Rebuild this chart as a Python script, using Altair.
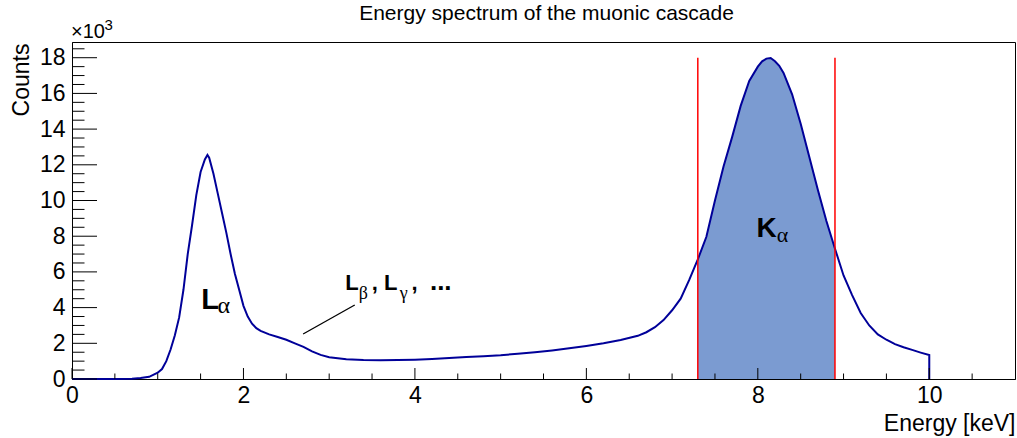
import altair as alt
import pandas as pd

# Histogram of the muonic X-ray cascade (energy in keV, counts per bin)
energy = [0.0, 0.5, 0.7, 0.8, 0.9, 1.0, 1.05, 1.1, 1.15, 1.2, 1.25, 1.3, 1.35, 1.4,
          1.45, 1.5, 1.55, 1.58, 1.6, 1.65, 1.7, 1.75, 1.8, 1.85, 1.9, 1.95, 2.0,
          2.05, 2.1, 2.15, 2.2, 2.3, 2.4, 2.5, 2.6, 2.7, 2.8, 2.9, 3.0, 3.2, 3.4, 3.6,
          3.8, 4.0, 4.2, 4.4, 4.6, 4.8, 5.0, 5.2, 5.4, 5.6, 5.8, 6.0, 6.2, 6.4,
          6.6, 6.7, 6.8, 6.9, 7.0, 7.1, 7.2, 7.3, 7.4, 7.5, 7.6, 7.7, 7.8, 7.9,
          8.0, 8.05, 8.1, 8.15, 8.2, 8.25, 8.3, 8.4, 8.5, 8.6, 8.7, 8.8, 8.9,
          9.0, 9.1, 9.2, 9.3, 9.4, 9.5, 9.6, 9.7, 9.8, 9.9, 10.0, 10.0]
counts = [0, 0, 20, 50, 120, 350, 560, 1000, 1650, 2450, 3450, 5000, 7000, 8600,
          10300, 11600, 12300, 12550, 12400, 11500, 10400, 9300, 8200, 7000, 5900,
          5000, 4100, 3500, 3100, 2850, 2700, 2500, 2350, 2200, 2000, 1800, 1550, 1350,
          1220, 1100, 1060, 1050, 1060, 1080, 1120, 1180, 1230, 1270, 1330, 1420,
          1500, 1600, 1720, 1850, 2000, 2180, 2420, 2620, 2900, 3300, 3850, 4500,
          5550, 6700, 7970, 10000, 11900, 13550, 15300, 16700, 17500, 17800, 17950,
          17980, 17800, 17550, 17150, 15950, 14300, 12450, 10600, 8850, 7300, 5800,
          4700, 3700, 3000, 2500, 2200, 1950, 1780, 1630, 1480, 1340, 0]

# K-alpha integration window
window = [7.3, 8.9]
window_top = 18000

# axis ticks
x_major = [0, 2, 4, 6, 8, 10]
x_minor = [0.5, 1, 1.5, 2.5, 3, 3.5, 4.5, 5, 5.5, 6.5, 7, 7.5, 8.5, 9, 9.5, 10.5]
y_major = [0, 2000, 4000, 6000, 8000, 10000, 12000, 14000, 16000, 18000]
y_minor = [v * 500 for v in range(1, 38) if v % 4 != 0]

# peak labels
bold_text = ["L", "K", "L", ", L", ",", "..."]
bold_e = [1.509, 7.984, 3.188, 3.497, 3.960, 4.175]
bold_c = [3922, 7972, 4986, 4986, 4986, 4986]
bold_size = [29, 28, 22, 22, 22, 26]
greek_text = ["α", "α", "β", "γ"]
greek_e = [1.696, 8.222, 3.345, 3.823]
greek_c = [3681, 7692, 4490, 4490]
greek_size = [24, 22, 18, 18]
pointer = {"E": [2.696], "E2": [3.298], "C": [2521], "C2": [4146]}

W, H = 943, 337
FONT = "Liberation Sans"
LINE = "#000099"
FILL = "#7b9bd1"

df = pd.DataFrame({"E": energy, "C": counts, "i": range(len(energy))})
df_win = df[(df.E >= window[0]) & (df.E <= window[1])].copy()
df_win["base"] = 0

x_scale = alt.Scale(domain=[0, 11], nice=False, zero=False)
y_scale = alt.Scale(domain=[0, 18880], nice=False, zero=False)

x_axis = alt.Axis(values=x_major, ticks=False, tickSize=0, grid=False,
                  domainColor="black", domainWidth=1,
                  labelFont=FONT, labelFontSize=23, labelColor="black",
                  labelPadding=5, labelFlush=False, labelOverlap=False,
                  title="Energy [keV]", titleFont=FONT, titleFontSize=23,
                  titleFontWeight="normal", titleColor="black",
                  titleX=W, titleY=51, titleAlign="right",
                  titleBaseline="alphabetic", titleAnchor="end")
y_axis = alt.Axis(values=y_major, labelExpr="datum.value / 1000",
                  ticks=False, tickSize=0, grid=False,
                  domainColor="black", domainWidth=1,
                  labelFont=FONT, labelFontSize=23, labelColor="black",
                  labelPadding=7, labelFlush=False, labelOverlap=False,
                  title="Counts", titleFont=FONT, titleFontSize=23,
                  titleFontWeight="normal", titleColor="black",
                  titleAngle=270, titleX=-43.7, titleY=1, titleAlign="right",
                  titleBaseline="alphabetic")


def X(field="E"):
    return alt.X(f"{field}:Q", scale=x_scale, axis=x_axis)


def Y(field="C", **kw):
    return alt.Y(f"{field}:Q", scale=y_scale, axis=y_axis, **kw)


# filled K-alpha window under the curve
area = alt.Chart(df_win).mark_area(color=FILL, opacity=1, interpolate="linear").encode(
    x=X(), y=Y(stack=None), y2="base:Q")

line = alt.Chart(df).mark_line(color=LINE, strokeWidth=2, interpolate="linear").encode(
    x=X(), y=Y(), order="i:Q")

cuts = alt.Chart(pd.DataFrame({"E": window, "C": [0, 0], "C2": [window_top] * 2})).mark_rule(
    color="#ff0000", strokeWidth=1.5).encode(x=X(), y=Y(), y2="C2:Q")

xt_major = alt.Chart(pd.DataFrame({"E": x_major})).mark_rule(color="black", strokeWidth=1).encode(
    x=X(), y=alt.value(H), y2=alt.value(H - 11))
xt_minor = alt.Chart(pd.DataFrame({"E": x_minor})).mark_rule(color="black", strokeWidth=1).encode(
    x=X(), y=alt.value(H), y2=alt.value(H - 5.5))
yt_major = alt.Chart(pd.DataFrame({"C": y_major})).mark_rule(color="black", strokeWidth=1).encode(
    y=Y(), x=alt.value(0), x2=alt.value(25))
yt_minor = alt.Chart(pd.DataFrame({"C": y_minor})).mark_rule(color="black", strokeWidth=1).encode(
    y=Y(), x=alt.value(0), x2=alt.value(12.5))

arrow = alt.Chart(pd.DataFrame(pointer)).mark_rule(color="black", strokeWidth=1.3).encode(
    x=X(), x2="E2:Q", y=Y(), y2="C2:Q")

bold = alt.Chart(pd.DataFrame({"E": bold_e, "C": bold_c, "t": bold_text, "s": bold_size})).mark_text(
    font=FONT, fontWeight="bold", align="left", baseline="alphabetic", color="black").encode(
    x=X(), y=Y(), text="t:N", size=alt.Size("s:Q", scale=None))
greek = alt.Chart(pd.DataFrame({"E": greek_e, "C": greek_c, "t": greek_text, "s": greek_size})).mark_text(
    font="Liberation Serif", align="left", baseline="alphabetic", color="black").encode(
    x=X(), y=Y(), text="t:N", size=alt.Size("s:Q", scale=None))

one = pd.DataFrame({"k": [0]})
title = alt.Chart(one).mark_text(text="Energy spectrum of the muonic cascade", font=FONT,
                                 fontSize=21, align="center", baseline="alphabetic",
                                 color="black").encode(x=alt.value(474.5), y=alt.value(-22.5))
mult = alt.Chart(one).mark_text(text="×10", font=FONT, fontSize=20, align="left",
                                baseline="alphabetic", color="black").encode(
    x=alt.value(-1), y=alt.value(-3.7))
expo = alt.Chart(one).mark_text(text="3", font=FONT, fontSize=15, align="left",
                                baseline="alphabetic", color="black").encode(
    x=alt.value(32.5), y=alt.value(-12))

chart = alt.layer(
    area, line, cuts, xt_major, xt_minor, yt_major, yt_minor, arrow, bold, greek,
    title, mult, expo
).properties(
    width=W, height=H,
    autosize=alt.AutoSizeParams(type="none"),
    padding={"left": 72, "top": 42, "right": 2, "bottom": 59},
    background="white",
).configure_view(stroke="black", strokeWidth=1)

chart.save("out.html", embed_options={"renderer": "svg", "actions": False})
